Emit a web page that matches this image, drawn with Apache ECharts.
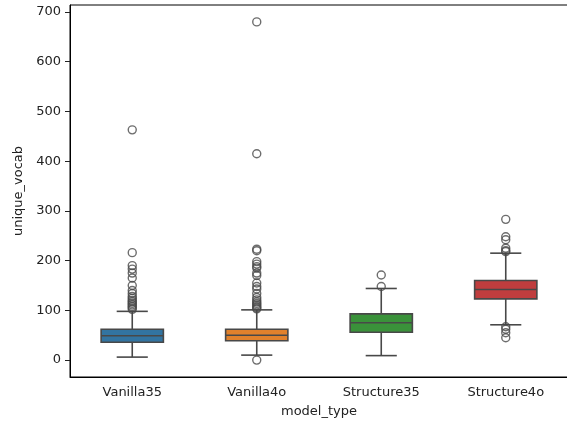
<!DOCTYPE html>
<html>
<head>
<meta charset="utf-8">
<script src="https://cdn.jsdelivr.net/npm/echarts@6/dist/echarts.min.js"></script>
<style>html,body{margin:0;padding:0;background:#fff}#c{width:567px;height:421px}</style>
</head>
<body>
<div id="c"></div>
<script>
const categories = ['Vanilla35', 'Vanilla4o', 'Structure35', 'Structure4o'];
const whiskerLow = [6, 10, 9, 71];
const q1 = [36, 39, 56, 123];
const median = [49, 50, 75, 142];
const q3 = [62, 62, 93, 160];
const whiskerHigh = [98, 101, 144, 215];
const boxColors = ['#3274a1', '#e1812c', '#3a923a', '#c03d3e'];
const outliersVanilla35 = [463, 216, 190, 183, 175, 165, 150, 140, 134, 128, 124, 120, 117, 114, 111, 108, 105, 102];
const outliersVanilla4o = [680, 415, 223, 220, 198, 193, 188, 185, 175, 170, 155, 148, 143, 134, 126, 121, 117, 114, 111, 108, 105, 103, 0];
const outliersStructure35 = [171, 148];
const outliersStructure4o = [283, 248, 242, 225, 220, 218, 67, 62, 55, 45];
const yTicks = [0, 100, 200, 300, 400, 500, 600, 700];

const outlierGroups = [outliersVanilla35, outliersVanilla4o, outliersStructure35, outliersStructure4o];
const outlierData = [];
outlierGroups.forEach((g, i) => g.forEach(v => outlierData.push([i, v])));
const boxData = categories.map((c, i) => [i, whiskerLow[i], q1[i], median[i], q3[i], whiskerHigh[i]]);

const lineColor = '#484848';
const lw = 1.6;
const font = 'DejaVu Sans';

const chart = echarts.init(document.getElementById('c'));
chart.setOption({
  animation: false,
  backgroundColor: '#fff',
  grid: { left: 70, top: 5, width: 498, height: 372, outerBoundsMode: 'none', containLabel: false,
          show: true, borderColor: '#000', borderWidth: 1, backgroundColor: 'transparent' },
  xAxis: {
    type: 'category',
    data: categories,
    boundaryGap: true,
    name: 'model_type',
    nameLocation: 'middle',
    nameGap: 28,
    nameTextStyle: { fontFamily: font, fontSize: 13, color: '#222' },
    axisLine: { onZero: false, lineStyle: { color: '#000', width: 1 } },
    axisTick: { alignWithLabel: true, length: 5, lineStyle: { color: '#222' } },
    axisLabel: { fontFamily: font, fontSize: 13, color: '#222', margin: 9 },
    splitLine: { show: false }
  },
  yAxis: {
    type: 'value',
    min: -34,
    max: 714,
    name: 'unique_vocab',
    nameLocation: 'middle',
    nameGap: 41,
    nameTextStyle: { fontFamily: font, fontSize: 13, color: '#222' },
    axisLine: { show: true, onZero: false, lineStyle: { color: '#000', width: 1 } },
    axisTick: { show: true, length: 5, customValues: yTicks, lineStyle: { color: '#222' } },
    axisLabel: { fontFamily: font, fontSize: 13, color: '#222', margin: 9, customValues: yTicks },
    splitLine: { show: false }
  },
  series: [
    {
      type: 'custom',
      data: boxData,
      encode: { x: 0, y: [1, 2, 3, 4, 5] },
      renderItem: function (params, api) {
        const i = api.value(0);
        const pLo = api.coord([i, api.value(1)]);
        const pQ1 = api.coord([i, api.value(2)]);
        const pMed = api.coord([i, api.value(3)]);
        const pQ3 = api.coord([i, api.value(4)]);
        const pHi = api.coord([i, api.value(5)]);
        const x = pLo[0];
        const bw = api.size([1, 0])[0] * 0.5;
        const cw = bw / 2;
        const st = { stroke: lineColor, lineWidth: lw };
        return {
          type: 'group',
          children: [
            { type: 'line', shape: { x1: x, y1: pLo[1], x2: x, y2: pQ1[1] }, style: st },
            { type: 'line', shape: { x1: x, y1: pQ3[1], x2: x, y2: pHi[1] }, style: st },
            { type: 'line', shape: { x1: x - cw / 2, y1: pLo[1], x2: x + cw / 2, y2: pLo[1] }, style: st },
            { type: 'line', shape: { x1: x - cw / 2, y1: pHi[1], x2: x + cw / 2, y2: pHi[1] }, style: st },
            { type: 'rect', shape: { x: x - bw / 2, y: pQ3[1], width: bw, height: pQ1[1] - pQ3[1] },
              style: { fill: boxColors[params.dataIndex], stroke: lineColor, lineWidth: lw } },
            { type: 'line', shape: { x1: x - bw / 2, y1: pMed[1], x2: x + bw / 2, y2: pMed[1] }, style: st }
          ]
        };
      },
      z: 2
    },
    {
      type: 'scatter',
      data: outlierData,
      symbol: 'circle',
      symbolSize: 8,
      itemStyle: { color: 'rgba(0,0,0,0)', borderColor: lineColor, borderWidth: 1.4 },
      z: 3
    }
  ]
});
</script>
</body>
</html>
